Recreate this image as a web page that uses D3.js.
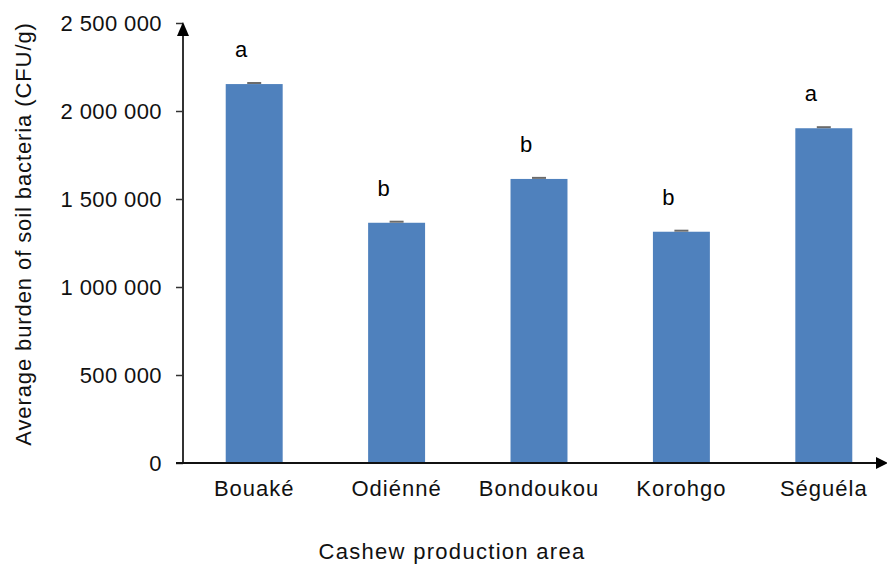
<!DOCTYPE html>
<meta charset="utf-8">
<script src="https://d3js.org/d3.v7.min.js"></script>
<style>
  body { margin: 0; background: #fff; }
  text { font-family: "Liberation Sans", Arial, sans-serif; }
</style>
<div id="chart"></div>
<script>

// data
var areas   = ["Bouaké", "Odiénné", "Bondoukou", "Korohgo", "Séguéla"];
var burden  = [2153000, 1365000, 1614000, 1314000, 1902000];
var errors  = [6000, 6000, 6000, 6000, 6000];
var letters = ["a", "b", "b", "b", "a"];
var yTicks  = [0, 500000, 1000000, 1500000, 2000000, 2500000];

var width = 887,
    height = 564;

var svg = d3.select("#chart")
  .append("svg")
    .attr("width", width)
    .attr("height", height);

// scales
var x = d3.scaleBand()
    .domain(areas)
    .range([183, 895])
    .paddingInner(0.6)
    .paddingOuter(0.3);

var y = d3.scaleLinear()
    .domain([0, 2500000])
    .range([463, 23]);

var fmt = function(v) { return d3.format(",")(v).replace(/,/g, " "); };

// bars
svg.selectAll(".bar")
  .data(areas)
  .enter().append("rect")
    .attr("class", "bar")
    .attr("x", function(d) { return x(d); })
    .attr("width", x.bandwidth())
    .attr("y", function(d, i) { return y(burden[i]); })
    .attr("height", function(d, i) { return y(0) - y(burden[i]); })
    .attr("fill", "#4F81BD");

// error bar caps (tiny)
svg.selectAll(".err")
  .data(areas)
  .enter().append("line")
    .attr("class", "err")
    .attr("x1", function(d) { return x(d) + x.bandwidth() / 2 - 7; })
    .attr("x2", function(d) { return x(d) + x.bandwidth() / 2 + 7; })
    .attr("y1", function(d, i) { return y(burden[i] + errors[i]); })
    .attr("y2", function(d, i) { return y(burden[i] + errors[i]); })
    .attr("stroke", "#6b6b6b")
    .attr("stroke-width", 2);

// significance letters
svg.selectAll(".letter")
  .data(areas)
  .enter().append("text")
    .attr("class", "letter")
    .attr("x", function(d) { return x(d) + x.bandwidth() / 2 - 13; })
    .attr("y", function(d, i) { return y(burden[i]) - 27; })
    .attr("text-anchor", "middle")
    .style("font-size", "22px")
    .text(function(d, i) { return letters[i]; });

// y axis
var yAxis = svg.append("g")
    .attr("transform", "translate(183,0)")
    .call(d3.axisLeft(y).tickValues(yTicks).tickFormat(fmt).tickSize(7).tickPadding(14).tickSizeOuter(0));
yAxis.select(".domain").remove();
yAxis.selectAll(".tick line").attr("stroke", "#333").attr("stroke-width", 1.5);
yAxis.selectAll(".tick text").style("font-size", "22px").style("letter-spacing", "0.4px").attr("fill", "#111");

svg.append("line")
    .attr("x1", 183).attr("x2", 183)
    .attr("y1", y(0)).attr("y2", y(2500000) + 8)
    .attr("stroke", "#333").attr("stroke-width", 2);
svg.append("path")
    .attr("d", "M183," + (y(2500000) - 1) + " l-6,14 l12,0 z")
    .attr("fill", "#000");

// x axis
var xAxis = svg.append("g")
    .attr("transform", "translate(0," + y(0) + ")")
    .call(d3.axisBottom(x).tickSize(0).tickPadding(17));
xAxis.select(".domain").remove();
xAxis.selectAll(".tick text").style("font-size", "22px").style("letter-spacing", "1px").attr("fill", "#111");

svg.append("line")
    .attr("x1", 176).attr("x2", 880)
    .attr("y1", y(0)).attr("y2", y(0))
    .attr("stroke", "#111").attr("stroke-width", 2);
svg.append("path")
    .attr("d", "M888," + y(0) + " l-12,-6 l0,12 z")
    .attr("fill", "#000");

// axis titles
svg.append("text")
    .attr("x", 452)
    .attr("y", 559)
    .attr("text-anchor", "middle")
    .style("font-size", "22px")
    .style("letter-spacing", "1.3px")
    .attr("fill", "#111")
    .text("Cashew production area");

svg.append("text")
    .attr("transform", "translate(31,234) rotate(-90)")
    .attr("text-anchor", "middle")
    .style("font-size", "22px")
    .style("letter-spacing", "0.9px")
    .attr("fill", "#111")
    .text("Average burden of soil bacteria (CFU/g)");

</script>
